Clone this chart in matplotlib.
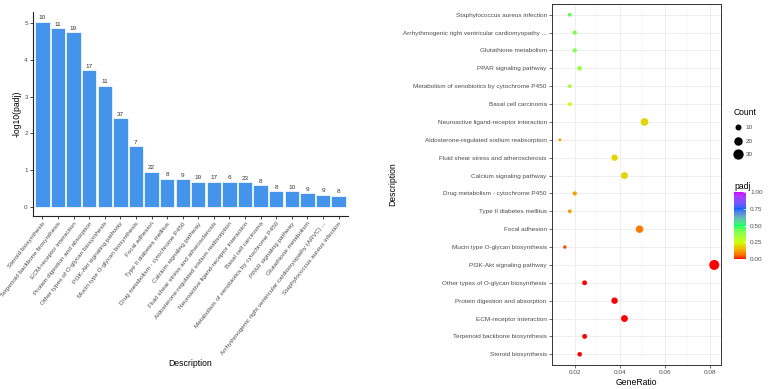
import numpy as np
import matplotlib
matplotlib.use("Agg")
import matplotlib.pyplot as plt
from matplotlib.colors import ListedColormap
from matplotlib.lines import Line2D
from matplotlib.ticker import MultipleLocator

plt.rcParams['font.family'] = ['Liberation Sans', 'DejaVu Sans']

# ---------------- data ----------------
descriptions = [
    "Steroid biosynthesis",
    "Terpenoid backbone biosynthesis",
    "ECM-receptor interaction",
    "Protein digestion and absorption",
    "Other types of O-glycan biosynthesis",
    "PI3K-Akt signaling pathway",
    "Mucin type O-glycan biosynthesis",
    "Focal adhesion",
    "Type II diabetes mellitus",
    "Drug metabolism - cytochrome P450",
    "Calcium signaling pathway",
    "Fluid shear stress and atherosclerosis",
    "Aldosterone-regulated sodium reabsorption",
    "Neuroactive ligand-receptor interaction",
    "Basal cell carcinoma",
    "Metabolism of xenobiotics by cytochrome P450",
    "PPAR signaling pathway",
    "Glutathione metabolism",
    "Arrhythmogenic right ventricular cardiomyopathy (ARVC) ...",
    "Staphylococcus aureus infection",
]
dot_labels = descriptions[:18] + [
    "Arrhythmogenic right ventricular cardiomyopathy ...",
    "Staphylococcus aureus infection",
]
neg_log10_padj = [5.04, 4.86, 4.75, 3.72, 3.29, 2.41, 1.65, 0.95, 0.76, 0.75,
                  0.68, 0.68, 0.68, 0.67, 0.58, 0.43, 0.43, 0.37, 0.33, 0.30]
counts = [10, 11, 19, 17, 11, 37, 7, 22, 8, 9, 19, 17, 6, 23, 8, 8, 10, 9, 9, 8]
gene_ratio = [0.0221, 0.0243, 0.0420, 0.0376, 0.0243, 0.0819, 0.0155, 0.0487,
              0.0177, 0.0199, 0.0420, 0.0376, 0.0133, 0.0509, 0.0177, 0.0177,
              0.0221, 0.0199, 0.0199, 0.0177]
padj = [0.000009, 0.000014, 0.000018, 0.00019, 0.00051, 0.0039, 0.03, 0.075,
        0.12, 0.12, 0.19, 0.19, 0.13, 0.195, 0.25, 0.33, 0.36, 0.40, 0.42, 0.45]
legend_counts = [10, 20, 30]
cbar_ticks = [0.0, 0.25, 0.5, 0.75, 1.0]
gradient_colours = ["#FF0000", "#CCFF00", "#00FF66", "#0066FF", "#CC00FF"]

# ---------------- colour ramp in CIELAB (like ggplot) ----------------
WHITE = np.array([0.95047, 1.0, 1.08883])
M = np.array([[0.4124564, 0.3575761, 0.1804375],
              [0.2126729, 0.7151522, 0.0721750],
              [0.0193339, 0.1191920, 0.9503041]])
Minv = np.linalg.inv(M)


def srgb_to_lab(rgb):
    rgb = np.asarray(rgb, float)
    lin = np.where(rgb <= 0.04045, rgb / 12.92, ((rgb + 0.055) / 1.055) ** 2.4)
    xyz = lin @ M.T / WHITE
    d = 6 / 29
    f = np.where(xyz > d ** 3, np.cbrt(xyz), xyz / (3 * d * d) + 4 / 29)
    return np.stack([116 * f[..., 1] - 16, 500 * (f[..., 0] - f[..., 1]),
                     200 * (f[..., 1] - f[..., 2])], axis=-1)


def lab_to_srgb(lab):
    lab = np.asarray(lab, float)
    fy_ = (lab[..., 0] + 16) / 116
    fx_ = fy_ + lab[..., 1] / 500
    fz_ = fy_ - lab[..., 2] / 200
    f = np.stack([fx_, fy_, fz_], axis=-1)
    d = 6 / 29
    xyz = np.where(f > d, f ** 3, 3 * d * d * (f - 4 / 29)) * WHITE
    lin = xyz @ Minv.T
    lin = np.clip(lin, 0, 1)
    rgb = np.where(lin <= 0.0031308, 12.92 * lin, 1.055 * lin ** (1 / 2.4) - 0.055)
    return np.clip(rgb, 0, 1)


stops_rgb = np.array([matplotlib.colors.to_rgb(c) for c in gradient_colours])
stops_lab = srgb_to_lab(stops_rgb)
pos = np.linspace(0, 1, len(gradient_colours))
tt = np.linspace(0, 1, 256)
lab_interp = np.stack([np.interp(tt, pos, stops_lab[:, k]) for k in range(3)], axis=-1)
cmap = ListedColormap(lab_to_srgb(lab_interp))

# ---------------- figure ----------------
W, H = 768, 389
fig = plt.figure(figsize=(W / 100, H / 100), dpi=100)
gray30 = "#4D4D4D"
tick_fs = 4.6
title_fs = 6.2


def fx(px):
    return px / W


def fy(py):
    return 1 - py / H


# ---- left: bar chart ----
ax1 = fig.add_axes([fx(33), fy(216), fx(348 - 33), (216 - 12) / H])
xpos = np.arange(1, len(descriptions) + 1)
ax1.bar(xpos, neg_log10_padj, width=0.92, color="#4494EC",
        edgecolor="white", linewidth=0.5)
for x, v, c in zip(xpos, neg_log10_padj, counts):
    ax1.text(x, v + 0.04, str(c), ha="center", va="bottom",
             fontsize=tick_fs, color="#333333")
ax1.set_xlim(0.4, len(descriptions) + 0.6)
ax1.set_ylim(-0.25, 5.3)
ax1.set_xticks(xpos)
ax1.set_xticklabels(descriptions, rotation=52, ha="right", va="top",
                    rotation_mode="anchor", fontsize=tick_fs, color=gray30)
ax1.set_yticks([0, 1, 2, 3, 4, 5])
ax1.tick_params(axis="y", labelsize=tick_fs, labelcolor=gray30,
                length=2.2, width=0.5, pad=1.5)
ax1.tick_params(axis="x", length=2.2, width=0.5, pad=1.5)
for s in ["top", "right"]:
    ax1.spines[s].set_visible(False)
for s in ["left", "bottom"]:
    ax1.spines[s].set_linewidth(0.8)
    ax1.spines[s].set_color("#222222")
ax1.set_ylabel("-log10(padj)", fontsize=title_fs, labelpad=2)
fig.text(fx(190.5), fy(363), "Description", ha="center", va="center",
         fontsize=title_fs)

# ---- right: dot plot ----
ax2 = fig.add_axes([fx(552), fy(365), fx(721 - 552), (365 - 4) / H])
ypos = np.arange(1, len(descriptions) + 1)
cmin, cmax = min(counts), max(counts)
dmin_px, dmax_px = 3.0, 10.0


def size_pts2(c):
    c = np.asarray(c, float)
    d_px = np.sqrt(dmin_px ** 2 + (dmax_px ** 2 - dmin_px ** 2) * (c - cmin) / (cmax - cmin))
    return (d_px * 0.72) ** 2


sc = ax2.scatter(gene_ratio, ypos, s=size_pts2(counts), c=padj, cmap=cmap,
                 vmin=0, vmax=1, linewidths=0, zorder=3)
ax2.set_xlim(0.0098, 0.0849)
ax2.set_ylim(0.4, len(descriptions) + 0.6)
ax2.xaxis.set_major_locator(MultipleLocator(0.02))
ax2.xaxis.set_minor_locator(MultipleLocator(0.01))
ax2.set_xticklabels([f"{t:.2f}" for t in ax2.get_xticks()])
ax2.set_yticks(ypos)
ax2.set_yticklabels(dot_labels)
ax2.grid(which="major", color="#EBEBEB", linewidth=0.6, zorder=0)
ax2.grid(which="minor", axis="x", color="#F2F2F2", linewidth=0.35, zorder=0)
ax2.set_axisbelow(True)
ax2.tick_params(axis="both", which="major", labelsize=tick_fs, labelcolor=gray30,
                length=2.2, width=0.5, pad=1.5, color="#333333")
ax2.tick_params(axis="x", which="minor", length=0)
for s in ax2.spines.values():
    s.set_linewidth(0.7)
    s.set_color("#333333")
ax2.set_xlabel("GeneRatio", fontsize=title_fs, labelpad=2)
ax2.set_ylabel("Description", fontsize=title_fs, labelpad=4)

# ---- legend: Count ----
handles = [Line2D([], [], marker="o", linestyle="", color="black",
                  markersize=np.sqrt(size_pts2(c))) for c in legend_counts]
leg = fig.legend(handles, [str(c) for c in legend_counts], title="Count",
                 loc="upper left", bbox_to_anchor=(fx(734), fy(108)),
                 frameon=False, fontsize=tick_fs, title_fontsize=title_fs,
                 handlelength=1.2, handletextpad=0.6, labelspacing=1.25,
                 borderpad=0, borderaxespad=0)
leg._legend_box.align = "left"
for t in leg.get_texts():
    t.set_color(gray30)

# ---- colourbar: padj ----
cax = fig.add_axes([fx(734), fy(259), fx(12), 67 / H])
cb = fig.colorbar(sc, cax=cax)
cb.set_ticks(cbar_ticks)
cb.set_ticklabels([f"{t:.2f}" for t in cbar_ticks])
cb.outline.set_visible(False)
cax.tick_params(labelsize=tick_fs, labelcolor=gray30, length=2, width=0.5,
                color="white", direction="in", pad=3)
cax.set_title("padj", fontsize=title_fs, loc="left", pad=2)

fig.savefig("out.png", dpi=100)
